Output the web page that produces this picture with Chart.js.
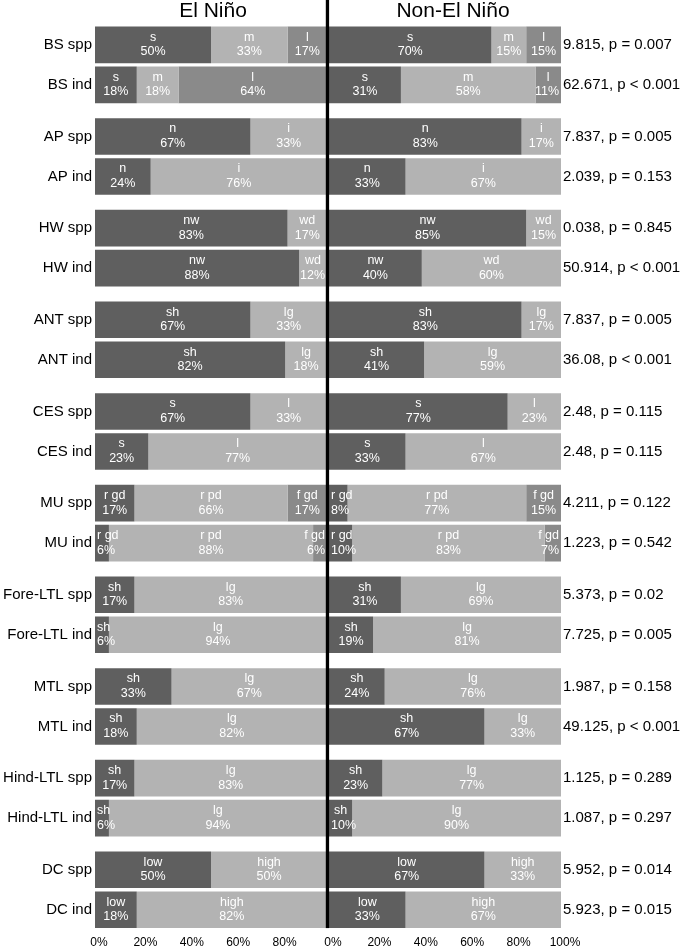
<!DOCTYPE html>
<html><head><meta charset="utf-8">
<script src="https://cdn.jsdelivr.net/npm/chart.js@4.4.1/dist/chart.umd.min.js"></script>
<style>
html,body{margin:0;padding:0;background:#fff;}
#wrap{position:relative;width:685px;height:950px;overflow:hidden;background:#fff;}
#c1{position:absolute;left:0;top:0;}
#c2{position:absolute;left:300px;top:0;}
</style></head><body>
<div id="wrap"><canvas id="c1" width="330" height="950"></canvas><canvas id="c2" width="385" height="950"></canvas></div>
<script>
// ---------- DATA ----------
const groups = ['BS','AP','HW','ANT','CES','MU','Fore-LTL','MTL','Hind-LTL','DC'];
const segNames = [['s','m','l'],['n','i'],['nw','wd'],['sh','lg'],['s','l'],['r gd','r pd','f gd'],['sh','lg'],['sh','lg'],['sh','lg'],['low','high']];
const panelTitles = ['El Niño','Non-El Niño'];
const tickValues = [0,20,40,60,80,100];

// El Niño
const elSpp1 = [50,67,83,67,67,17,17,33,17,50];
const elSpp2 = [33,33,17,33,33,66,83,67,83,50];
const elSpp3 = [17,0,0,0,0,17,0,0,0,0];
const elInd1 = [18,24,88,82,23,6,6,18,6,18];
const elInd2 = [18,76,12,18,77,88,94,82,94,82];
const elInd3 = [64,0,0,0,0,6,0,0,0,0];
// Non-El Niño
const nonSpp1 = [70,83,85,83,77,8,31,24,23,67];
const nonSpp2 = [15,17,15,17,23,77,69,76,77,33];
const nonSpp3 = [15,0,0,0,0,15,0,0,0,0];
const nonInd1 = [31,33,40,41,33,10,19,67,10,33];
const nonInd2 = [58,67,60,59,67,83,81,33,90,67];
const nonInd3 = [11,0,0,0,0,7,0,0,0,0];

const statsSpp = ['9.815, p = 0.007','7.837, p = 0.005','0.038, p = 0.845','7.837, p = 0.005','2.48, p = 0.115','4.211, p = 0.122','5.373, p = 0.02','1.987, p = 0.158','1.125, p = 0.289','5.952, p = 0.014'];
const statsInd = ['62.671, p < 0.001','2.039, p = 0.153','50.914, p < 0.001','36.08, p < 0.001','2.48, p = 0.115','1.223, p = 0.542','7.725, p = 0.005','49.125, p < 0.001','1.087, p = 0.297','5.923, p = 0.015'];

// ---------- STYLE ----------
const FONT = '"Liberation Sans", Arial, Helvetica, sans-serif';
const segColors = ['#5f5f5f','#b3b3b3','#8a8a8a'];
const rowTypes = ['spp','ind'];

function makeDatasets(sppSets, indSets) {
  const ds = [];
  [sppSets, indSets].forEach((sets, si) => {
    sets.forEach((vals, k) => {
      ds.push({
        label: rowTypes[si] + ' ' + k,
        data: vals,
        stack: rowTypes[si],
        backgroundColor: segColors[k],
        borderWidth: 0,
        segIndex: k,
        rowIdx: si,
        categoryPercentage: 0.873,
        barPercentage: 0.915
      });
    });
  });
  return ds;
}

function clampX(cx, w, left, right) {
  const m = 2;
  if (cx - w / 2 < left + m) cx = left + m + w / 2;
  if (cx + w / 2 > right - m) cx = right - m - w / 2;
  return cx;
}

const segLabelPlugin = {
  id: 'segLabels',
  afterDatasetsDraw(chart) {
    const ctx = chart.ctx, ca = chart.chartArea;
    ctx.save();
    ctx.font = '12.5px ' + FONT;
    ctx.fillStyle = '#ffffff';
    ctx.textAlign = 'center';
    ctx.textBaseline = 'middle';
    chart.data.datasets.forEach((ds, i) => {
      const meta = chart.getDatasetMeta(i);
      meta.data.forEach((bar, j) => {
        const v = ds.data[j];
        if (!v) return;
        const x0 = Math.min(bar.base, bar.x), x1 = Math.max(bar.base, bar.x);
        const cx = (x0 + x1) / 2, cy = bar.y;
        const lines = [segNames[j][ds.segIndex], v + '%'];
        const offs = [-7.5, 7];
        lines.forEach((t, li) => {
          const w = ctx.measureText(t).width;
          ctx.fillText(t, clampX(cx, w, ca.left, ca.right), cy + offs[li]);
        });
      });
    });
    ctx.restore();
  }
};

function rowBars(chart) {
  // first-segment bars of each row type
  const out = [[], []];
  chart.data.datasets.forEach((ds, i) => {
    if (ds.segIndex !== 0) return;
    out[ds.rowIdx] = chart.getDatasetMeta(i).data;
  });
  return out;
}

const leftPlugin = {
  id: 'leftDecor',
  afterDraw(chart) {
    const ctx = chart.ctx, ca = chart.chartArea;
    ctx.save();
    ctx.fillStyle = '#000';
    ctx.font = '21px ' + FONT;
    ctx.textAlign = 'center';
    ctx.textBaseline = 'alphabetic';
    ctx.fillText(panelTitles[0], (ca.left + ca.right) / 2 + 2, 17);
    ctx.font = '15px ' + FONT;
    ctx.textAlign = 'right';
    ctx.textBaseline = 'middle';
    const rb = rowBars(chart);
    rb.forEach((bars, r) => {
      bars.forEach((bar, j) => {
        ctx.fillText(groups[j] + ' ' + rowTypes[r], ca.left - 3, bar.y);
      });
    });
    ctx.restore();
  }
};

const rightPlugin = {
  id: 'rightDecor',
  afterDraw(chart) {
    const ctx = chart.ctx, ca = chart.chartArea;
    ctx.save();
    ctx.fillStyle = '#000';
    ctx.font = '21px ' + FONT;
    ctx.textAlign = 'center';
    ctx.textBaseline = 'alphabetic';
    ctx.fillText(panelTitles[1], (ca.left + ca.right) / 2 + 8, 17);
    ctx.font = '15px ' + FONT;
    ctx.textAlign = 'left';
    ctx.textBaseline = 'middle';
    const rb = rowBars(chart);
    const stats = [statsSpp, statsInd];
    rb.forEach((bars, r) => {
      bars.forEach((bar, j) => {
        ctx.fillText(stats[r][j], ca.right + 2, bar.y);
      });
    });
    // divider line between panels
    const last = rb[1][rb[1].length - 1];
    const bottom = last.y + last.height / 2;
    ctx.fillRect(ca.left - 3.2, 0, 3.3, bottom);
    ctx.restore();
  }
};

function makeChart(id, datasets, padL, padR, showLast, plugins) {
  return new Chart(document.getElementById(id), {
    type: 'bar',
    data: { labels: groups, datasets },
    options: {
      indexAxis: 'y',
      responsive: false,
      animation: false,
      events: [],
      layout: { padding: { left: padL, right: padR, top: 19, bottom: 0 } },
      plugins: { legend: { display: false }, tooltip: { enabled: false }, title: { display: false } },
      scales: {
        x: {
          type: 'linear', stacked: true, min: 0, max: 100,
          afterBuildTicks(scale) { scale.ticks = tickValues.map(v => ({ value: v })); },
          grid: { display: false, drawTicks: false },
          border: { display: false },
          ticks: {
            padding: 0, labelOffset: 4, color: '#000', maxRotation: 0, autoSkip: false,
            font: { family: FONT, size: 12 },
            callback: (v) => (v === 100 && !showLast) ? '' : v + '%'
          }
        },
        y: { type: 'category', stacked: true, display: false }
      }
    },
    plugins
  });
}

makeChart('c1', makeDatasets([elSpp1, elSpp2, elSpp3], [elInd1, elInd2, elInd3]), 95, 3, false, [segLabelPlugin, leftPlugin]);
makeChart('c2', makeDatasets([nonSpp1, nonSpp2, nonSpp3], [nonInd1, nonInd2, nonInd3]), 29, 124, true, [segLabelPlugin, rightPlugin]);
</script>
</body></html>
